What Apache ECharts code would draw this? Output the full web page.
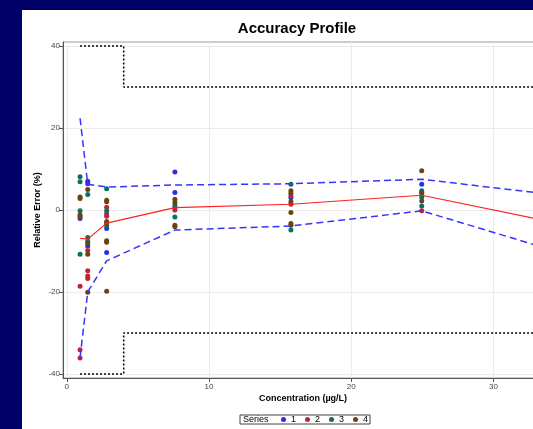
<!DOCTYPE html>
<html>
<head>
<meta charset="utf-8">
<script src="https://cdn.jsdelivr.net/npm/echarts@6/dist/echarts.min.js"></script>
<style>
html,body{margin:0;padding:0;background:#000066;width:533px;height:429px;overflow:hidden;position:relative;}
#c{position:absolute;left:22px;top:10px;width:521px;height:419px;background:#fff;}
</style>
</head>
<body>
<div id="c"></div>
<script>
// Concentration levels (last one lies beyond the visible frame)
const levels = [0.93, 1.47, 2.8, 7.6, 15.76, 24.96, 40];
// Relative error values per level for each series
const series1 = [[-2.1], [7.0, 6.4, -8.8], [-4.5, -10.4], [9.3, 4.3], [3.0], [6.3]];
const series2 = [[-18.6, -34.1, -36.1], [-9.9, -14.8, -16.1, -16.7], [0.7, -1.0, -1.5], [0.6, 0.0], [3.5, 1.4], [-0.2]];
const series3 = [[8.1, 6.9, -0.2, -10.8], [3.8, -6.7, -7.6], [5.2, -0.2, -3.8], [1.1, -1.7], [6.3, -4.9], [4.7, 4.3, 3.1, 1.0]];
const series4 = [[3.2, 2.8, -1.2, -1.6], [5.0, -8.2, -10.8, -20.1], [2.4, 2.0, -2.8, -3.2, -7.5, -7.9, -19.8], [2.6, 1.8, -3.7, -4.1], [4.7, 4.1, 2.0, -0.6, -3.3, -3.7], [9.6, 4.1, 2.2]];
// Mean relative error and tolerance interval limits per level
const meanError = [-6.9, -7.1, -3.2, 0.6, 1.4, 3.6, -7.1];
const upperTol = [22.4, 6.3, 5.6, 6.1, 6.4, 7.5, 1.4];
const lowerTol = [-36.0, -20.0, -12.4, -4.9, -3.9, -0.2, -15.9];
// Acceptance limits
const limitX = [0.93, 4, 4, 40];
const limitY = [40, 40, 30, 30];
// Tick labels
const xTicks = [0, 10, 20, 30];
const yTicks = [-40, -20, 0, 20, 40];
const seriesNames = ['1', '2', '3', '4'];
const seriesColors = ['#2f2fe0', '#c42238', '#0e6e60', '#6b4214'];

const pts = s => { const d = []; s.forEach((vals, i) => vals.forEach(v => d.push([levels[i], v]))); return d; };
const lineData = ys => ys.map((v, i) => [levels[i], v]);

const chart = echarts.init(document.getElementById('c'), null, {renderer: 'canvas'});
const font = 'Liberation Sans, Arial, sans-serif';
const scatter = [series1, series2, series3, series4].map((s, k) => ({
  name: seriesNames[k], type: 'scatter', data: pts(s), symbolSize: 5,
  itemStyle: {color: seriesColors[k], opacity: 1}, z: 5
}));

chart.setOption({
  animation: false,
  textStyle: {fontFamily: font},
  grid: {left: 41, top: 32, right: 0, bottom: 51, show: true, borderColor: '#9a9a9a', borderWidth: 1, backgroundColor: 'transparent'},
  xAxis: {
    type: 'value', min: -0.27, max: 33.49,
    name: 'Concentration (µg/L)', nameLocation: 'middle', nameGap: 16, nameMoveOverlap: false,
    nameTextStyle: {fontWeight: 'bold', fontSize: 9, color: '#000', fontFamily: font},
    axisLine: {show: true, onZero: false, lineStyle: {color: '#555', width: 1}},
    axisTick: {show: true, length: 4, customValues: xTicks, lineStyle: {color: '#555'}},
    axisLabel: {customValues: xTicks, fontSize: 8, color: '#444', margin: 5, fontFamily: font},
    splitLine: {show: true, lineStyle: {color: '#ececec', width: 1}}
  },
  yAxis: {
    type: 'value', min: -41, max: 41,
    name: 'Relative Error (%)', nameLocation: 'middle', nameGap: 21, nameMoveOverlap: false,
    nameTextStyle: {fontWeight: 'bold', fontSize: 9, color: '#000', fontFamily: font},
    axisLine: {show: true, onZero: false, lineStyle: {color: '#555', width: 1}},
    axisTick: {show: true, length: 4, customValues: yTicks, lineStyle: {color: '#555'}},
    axisLabel: {customValues: yTicks, fontSize: 8, color: '#444', margin: 3, fontFamily: font},
    splitLine: {show: true, lineStyle: {color: '#ececec', width: 1}}
  },
  legend: {
    data: seriesNames, left: 218, top: 405, orient: 'horizontal',
    icon: 'circle', itemWidth: 5, itemHeight: 5, itemGap: 9,
    padding: [0, 2, 0, 41], borderColor: '#444', borderWidth: 1,
    textStyle: {fontSize: 9, color: '#000', fontFamily: font, padding: [0, 0, 0, 0]}
  },
  graphic: [
    {type: 'text', left: 221, top: 405.5, style: {text: 'Series', fontSize: 9, fill: '#000', font: '9px Liberation Sans, Arial, sans-serif'}},
    {type: 'text', x: 275, y: 19, style: {text: 'Accuracy Profile', fill: '#000', font: 'bold 15px Liberation Sans, Arial, sans-serif', textAlign: 'center', textVerticalAlign: 'middle'}}
  ],
  series: [
    {type: 'line', data: limitX.map((x, i) => [x, limitY[i]]), symbol: 'none', lineStyle: {color: '#000', width: 1.5, type: [2, 2]}, z: 3, silent: true},
    {type: 'line', data: limitX.map((x, i) => [x, -limitY[i]]), symbol: 'none', lineStyle: {color: '#000', width: 1.5, type: [2, 2]}, z: 3, silent: true},
    ...scatter,
    {type: 'line', data: lineData(meanError), symbol: 'none', lineStyle: {color: '#ff2020', width: 1.2}, z: 6},
    {type: 'line', data: lineData(upperTol), symbol: 'none', lineStyle: {color: '#3535ff', width: 1.5, type: [7, 4]}, z: 6},
    {type: 'line', data: lineData(lowerTol), symbol: 'none', lineStyle: {color: '#3535ff', width: 1.5, type: [7, 4]}, z: 6}
  ]
});
</script>
</body>
</html>
